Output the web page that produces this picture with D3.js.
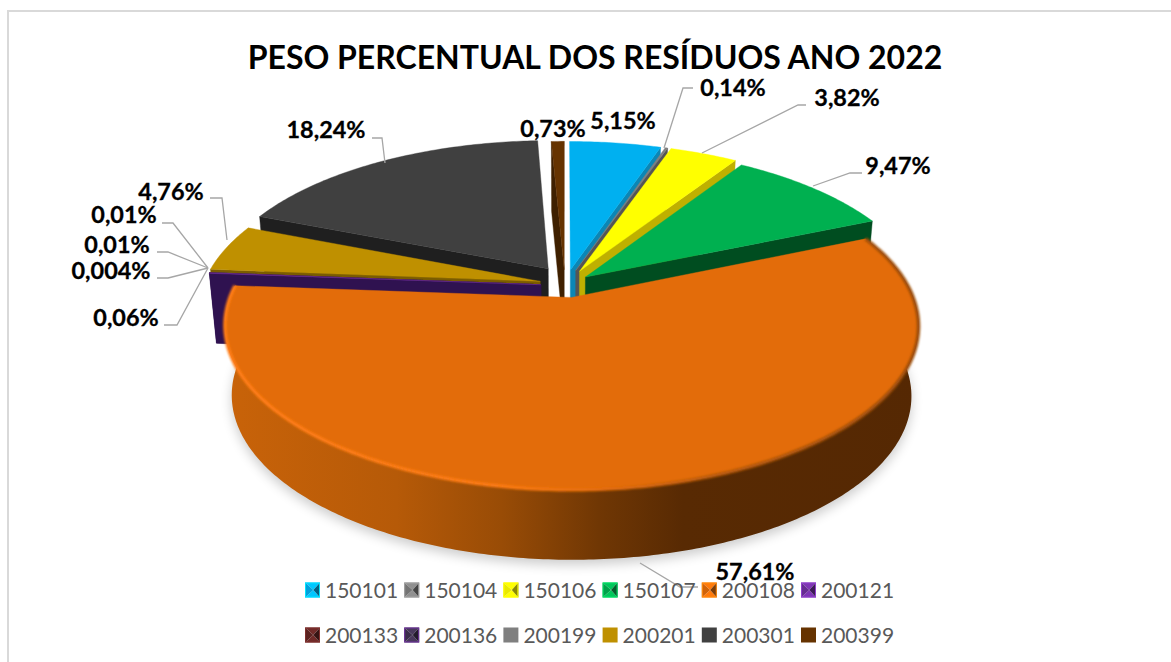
<!DOCTYPE html>
<html><head><meta charset="utf-8">
<script src="https://cdn.jsdelivr.net/npm/d3@7/dist/d3.min.js"></script>
<style>html,body{margin:0;background:#fff}svg{display:block}text{font-family:Lato,"Open Sans",sans-serif}</style>
</head><body><svg id="c" width="1171" height="662"></svg>
<script>
const codes=["150101","150104","150106","150107","200108","200121","200133","200136","200199","200201","200301","200399"];
const values=[5.15,0.14,3.82,9.47,57.61,0.06,0.004,0.01,0.01,4.76,18.24,0.73];
const labels=["5,15%","0,14%","3,82%","9,47%","57,61%","0,06%","0,004%","0,01%","0,01%","4,76%","18,24%","0,73%"];
const colors=["#00B0F0","#7F7F7F","#FFFF00","#00B050","#E36C0A","#7030A0","#632523","#403151","#7F7F7F","#BF9000","#404040","#663300"];
const faces=["#0B86B5","#555555","#BFB000","#004D20","#A04C06","#2F1250","#2F1250","#2F1250","#2F1250","#7a5c00","#1F1F1F","#3F2000"];
const chartTitle="PESO PERCENTUAL DOS RESÍDUOS ANO 2022";

// layout
const W=1171,H=662,cx=565,cy=285,R=337,Ry=155,persp=.17,wallH=70;
const explode=[.1,.1,.1,.08,.08,.02,.02,.02,.02,.05,.07,.1];
const shiftX=[0,0,0,0,.006,-.052,-.052,-.052,-.052,-.025,-.01,0];
const shiftY=[0,0,0,0,0,0,0,0,0,-.012,-.05,0];
const labelPos=[[623,121],[733,88],[847,98],[898,166],[755,572],[126,318],[111,271],[117,245],[124,215],[171,192],[326,130],[553,129]];
const leaders=[null,[[693,88],[683,88],[664,148]],[[806,105],[798,105],[702,153]],[[862,173],[850,173],[813,186]],[[640,563],[680,587],[698,587]],
 [[164,325],[177,325],[208,268]],[[157,278],[168,278],[208,268]],[[157,252],[168,252],[208,268]],[[162,223],[173,223],[208,268]],[[210,198],[222,198],[227,240]],[[372,138],[382,138],[385,163]],null];

const svg=d3.select("#c");
const defs=svg.append("defs");
function grad(id,stops){
  const g=defs.append("linearGradient").attr("id",id).attr("gradientUnits","userSpaceOnUse").attr("x1",222).attr("x2",920).attr("y1",0).attr("y2",0);
  stops.forEach(s=>g.append("stop").attr("offset",s[0]).attr("stop-color",s[1]));
}
grad("wall",[[0,"#C96309"],[.25,"#B65A08"],[.4,"#994C06"],[.54,"#703704"],[.66,"#582A03"],[1,"#552803"]]);
grad("rim",[[0,"#FF7D14"],[.4,"#FB7A12"],[.55,"#E36C0A"],[.7,"#B85A08"],[1,"#9A4C07"]]);
function blur(id,s){defs.append("filter").attr("id",id).attr("x","-20%").attr("y","-20%").attr("width","140%").attr("height","140%").append("feGaussianBlur").attr("stdDeviation",s);}
blur("blur",6);blur("soft",1);

const pathLine=d3.line();
// chart frame: only the top and left edges fall inside the picture
svg.append("path").attr("d",pathLine([[8,H],[8,11],[W,11]])).attr("fill","none").attr("stroke","#D9D9D9").attr("stroke-width",2);
svg.append("text").attr("x",595).attr("y",69).attr("text-anchor","middle").attr("font-size",32).attr("font-weight",700).attr("fill","#000").text(chartTitle);

const arcs=d3.pie().sort(null).value(d=>d).startAngle(0).endAngle(2*Math.PI)(values);
function proj(i,t,r){ // project a disk point (angle t, radius r) of slice i
  const m=(arcs[i].startAngle+arcs[i].endAngle)/2,e=explode[i];
  const x=r*Math.sin(t)+e*Math.sin(m)+shiftX[i], y=-r*Math.cos(t)-e*Math.cos(m)+shiftY[i];
  const w=1-persp*y;
  return [cx+R*x/w, cy+Ry*y/w, y];
}
function low(p){return [cx+(p[0]-cx)*.98,p[1]+wallH];}
function angles(a,b){const n=Math.max(2,Math.ceil((b-a)*80));return d3.range(n+1).map(k=>a+(b-a)*k/n);}
const gPie=svg.append("g");

// ground shadow
const orange=4;
const sh=angles(arcs[orange].startAngle,arcs[orange].endAngle).map(t=>low(proj(orange,t,1))).map(p=>[p[0],p[1]+5]);
gPie.append("path").attr("d",pathLine(sh)+"Z").attr("fill","#000").attr("opacity",.2).attr("filter","url(#blur)");

function face(i,t,color){
  const a=proj(i,t,0),b=proj(i,t,1);
  gPie.append("path").attr("d",pathLine([a,b,low(b),low(a)])+"Z").attr("fill",color).attr("stroke",color).attr("stroke-width",.4);
}
function topFace(i){
  const d=arcs[i],pts=[proj(i,0,0),...angles(d.startAngle,d.endAngle).map(t=>proj(i,t,1))];
  gPie.append("path").attr("d",pathLine(pts)+"Z").attr("fill",colors[i]).attr("stroke",colors[i]).attr("stroke-width",.4);
}
// right side back-to-front, then left side back-to-front
[0,1,2,3].forEach(i=>{face(i,arcs[i].endAngle,faces[i]);topFace(i);});
[11,10,9,8,7,6,5].forEach(i=>{face(i,arcs[i].startAngle,faces[i]);topFace(i);});

// exploded main slice: wall then top
{
  const i=orange,d=arcs[i],ang=angles(d.startAngle,d.endAngle);
  const upper=ang.map(t=>proj(i,t,1)),lower=ang.map(t=>low(proj(i,t,1)));
  gPie.append("path").attr("d",pathLine([...upper,...lower.slice().reverse()])+"Z").attr("fill","url(#wall)");
  topFace(i);
  gPie.append("path").attr("d",pathLine(upper)).attr("fill","none").attr("stroke","url(#rim)").attr("stroke-width",3.5).attr("stroke-linejoin","round").attr("filter","url(#soft)");
}

// leaders
svg.append("g").selectAll("path").data(leaders.filter(Boolean)).join("path")
  .attr("d",d=>pathLine(d)).attr("fill","none").attr("stroke","#A6A6A6").attr("stroke-width",1.3);
// data labels
svg.append("g").selectAll("text").data(labels).join("text")
  .attr("x",(d,i)=>labelPos[i][0]).attr("y",(d,i)=>labelPos[i][1]+8)
  .attr("text-anchor","middle").attr("font-size",23.4).attr("font-weight",700).attr("fill","#000").attr("stroke","#000").attr("stroke-width",.3).text(d=>d);

// legend
const col=d3.scalePoint().domain(d3.range(6)).range([305,801]);
const rowY=[590,635],S=15;
const lg=svg.append("g").selectAll("g").data(codes).join("g")
  .attr("transform",(d,i)=>`translate(${col(i%6)},${rowY[Math.floor(i/6)]-S/2})`);
lg.each(function(d,i){
  const g=d3.select(this),c=d3.color(colors[i]);
  if(i>=8){g.append("rect").attr("width",S).attr("height",S).attr("fill",colors[i]);return;}
  const m=[S*.56,S/2];
  [[[0,0],[S,0],m,c.brighter(.35)],[[S,S],[0,S],m,c.brighter(.35)],[[S,0],[S,S],m,c.darker(1.7)],[[0,S],[0,0],m,c.darker(.25)]]
   .forEach(p=>g.append("path").attr("d",pathLine(p.slice(0,3))+"Z").attr("fill",p[3]));
  g.append("rect").attr("x",.5).attr("y",.5).attr("width",S-1).attr("height",S-1).attr("fill","none").attr("stroke",i===7?"#7030A0":c.brighter(.7)).attr("stroke-width",1);
});
lg.append("text").attr("x",S+5).attr("y",S/2+7.5).attr("font-size",21).attr("fill","#595959").text(d=>d);
</script></body></html>
